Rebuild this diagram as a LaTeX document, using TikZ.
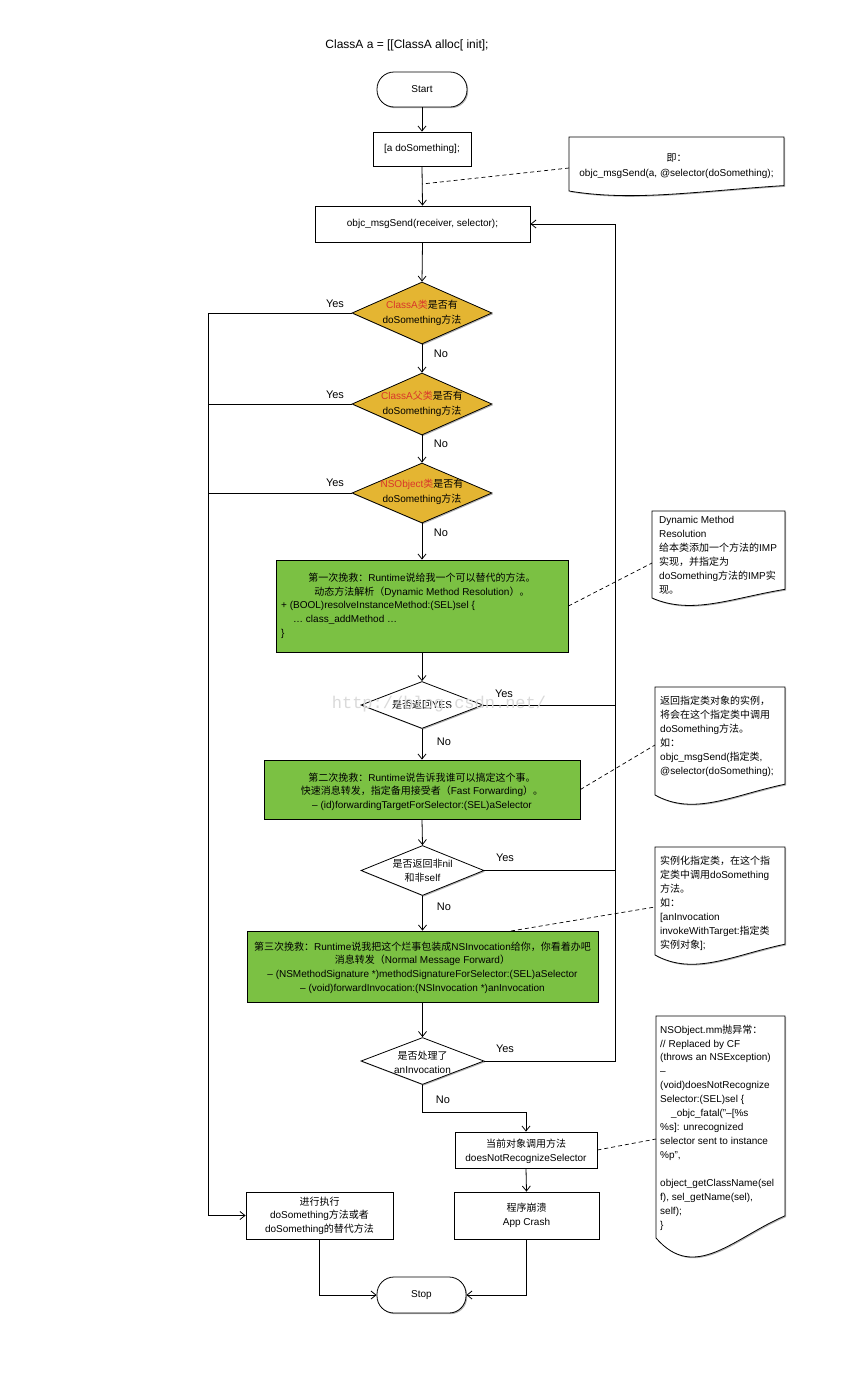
\documentclass[tikz,border=0pt]{standalone}
\usepackage{fontspec}
\setmainfont{Liberation Sans}
\newfontfamily\cjk{Noto Sans CJK SC}
\newfontfamily\wmfont{Liberation Mono}
\usetikzlibrary{shapes.geometric,arrows.meta,shadows,calc}
\XeTeXinterchartokenstate=1
\newXeTeXintercharclass\cjkclass
\newcount\cjkcnt
\cjkcnt="4E00
\loop \XeTeXcharclass\cjkcnt=\cjkclass \ifnum\cjkcnt<"9FFF \advance\cjkcnt by 1 \repeat
\cjkcnt="3000
\loop \XeTeXcharclass\cjkcnt=\cjkclass \ifnum\cjkcnt<"303F \advance\cjkcnt by 1 \repeat
\cjkcnt="FF00
\loop \XeTeXcharclass\cjkcnt=\cjkclass \ifnum\cjkcnt<"FFEF \advance\cjkcnt by 1 \repeat
\XeTeXinterchartoks 0 \cjkclass = {\begingroup\cjk}
\XeTeXinterchartoks 4095 \cjkclass = {\begingroup\cjk}
\XeTeXinterchartoks \cjkclass 0 = {\endgroup}
\XeTeXinterchartoks \cjkclass 4095 = {\endgroup}
\definecolor{cgold}{HTML}{E4B532}
\definecolor{cgreen}{HTML}{7BC143}
\definecolor{cred}{HTML}{D9362A}
\definecolor{wm}{HTML}{DADADA}
\newcommand\docshape[4]{%
  \draw[notebox] (#1,#2) -- (#3,#2) -- (#3,{#4-0.1*(#4-#2)})
    .. controls ({#1+0.6*(#3-#1)},#4) and ({#1+0.3*(#3-#1)},{#4+0.2*(#4-#2)}) .. (#1,#4) -- cycle;}
\begin{document}
\begin{tikzpicture}[x=1pt,y=-1pt,
  shad/.style={drop shadow={shadow xshift=1.2pt,shadow yshift=-1.2pt,opacity=0.3,fill=black}},
  base/.style={draw,line width=0.8pt,fill=white,shad,font=\fontsize{10}{14}\selectfont},
  box/.style={base,rectangle,inner sep=0pt,align=center},
  term/.style={box,rounded corners=17pt},
  dia/.style={base,diamond,inner sep=0pt},
  notebox/.style={draw,line width=0.8pt,fill=white,shad},
  flow/.style={line width=0.8pt,-{Straight Barb[length=5pt,width=8pt]}},
  ln/.style={line width=0.8pt},
  dsh/.style={line width=0.7pt,dash pattern=on 4pt off 3pt},
  lbl/.style={font=\fontsize{11}{13}\selectfont,inner sep=0pt},
  txt/.style={font=\fontsize{10}{14}\selectfont,align=center,inner sep=0pt},
  ntxt/.style={font=\fontsize{10}{14}\selectfont,align=left,anchor=north west,inner sep=0pt}]
\fill[white] (0,0) rectangle (856,1384);
\useasboundingbox (0,0) rectangle (856,1384);

% title
\node[inner sep=0pt,font=\fontsize{12}{14}\selectfont] (title) at (407,45) {ClassA a = [[ClassA alloc[ init];};

% main column
\node[term,minimum width=90pt,minimum height=35pt] (start) at (422,89.5) {Start};
\node[box,minimum width=98pt,minimum height=34pt] (ado) at (422,149) {[a doSomething];};
\node[box,minimum width=215pt,minimum height=36pt] (msg) at (422.5,224) {objc\_msgSend(receiver, selector);};

\node[dia,fill=cgold,minimum width=140pt,minimum height=62pt] (d1) at (422,313) {};
\node[txt,font=\fontsize{10}{15}\selectfont] (d1t) at (422,313) {\textcolor{cred}{ClassA类}是否有\\doSomething方法};
\node[dia,fill=cgold,minimum width=140pt,minimum height=62pt] (d2) at (422,404) {};
\node[txt,font=\fontsize{10}{15}\selectfont] (d2t) at (422,404) {\textcolor{cred}{ClassA父类}是否有\\doSomething方法};
\node[dia,fill=cgold,minimum width=140pt,minimum height=60pt] (d3) at (422,493) {};
\node[txt,font=\fontsize{10}{15}\selectfont] (d3t) at (422,492) {\textcolor{cred}{NSObject类}是否有\\doSomething方法};

\node[box,fill=cgreen,minimum width=292pt,minimum height=92pt] (g1) at (422,606) {};
\node[txt,font=\fontsize{10}{14.5}\selectfont] (g1a) at (422,585.5)
  {第一次挽救：Runtime说给我一个可以替代的方法。\\动态方法解析（Dynamic Method Resolution）。};
\node[ntxt] (g1b) at (281,601.5)
  {+ (BOOL)resolveInstanceMethod:(SEL)sel \{\\
   \hspace*{12pt}… class\_addMethod …\\
   \}};

\node[dia,minimum width=122pt,minimum height=47pt] (d4) at (422,705) {};
\node[txt] (d4t) at (422,705) {是否返回YES};

\node[box,fill=cgreen,minimum width=316pt,minimum height=59pt] (g2) at (422,789.5) {};
\node[txt,font=\fontsize{10}{13.5}\selectfont] (g2t) at (422,791.5)
  {第二次挽救：Runtime说告诉我谁可以搞定这个事。\\
   快速消息转发，指定备用接受者（Fast Forwarding）。\\
   – (id)forwardingTargetForSelector:(SEL)aSelector};

\node[dia,minimum width=123pt,minimum height=50pt] (d5) at (422.5,870.5) {};
\node[txt,font=\fontsize{10}{13.5}\selectfont] (d5t) at (422.5,870.5) {是否返回非nil\\和非self};

\node[box,fill=cgreen,minimum width=351pt,minimum height=71pt] (g3) at (422.5,966.5) {};
\node[txt,font=\fontsize{10}{13.7}\selectfont] (g3t) at (422.5,967.5)
  {第三次挽救：Runtime说我把这个烂事包装成NSInvocation给你，你看着办吧\\
   消息转发（Normal Message Forward）\\
   – (NSMethodSignature *)methodSignatureForSelector:(SEL)aSelector\\
   – (void)forwardInvocation:(NSInvocation *)anInvocation};

\node[dia,minimum width=123pt,minimum height=47pt] (d6) at (422.5,1061) {};
\node[txt] (d6t) at (422.5,1062) {是否处理了\\anInvocation};

\node[box,minimum width=142pt,minimum height=36pt] (dnr) at (526,1150) {};
\node[txt] (dnrt) at (526,1151) {当前对象调用方法\\doesNotRecognizeSelector};
\node[box,minimum width=145pt,minimum height=47pt] (crash) at (526.5,1215.5) {};
\node[txt,font=\fontsize{10}{13.5}\selectfont] (crasht) at (526.5,1215.5) {程序崩溃\\App Crash};
\node[box,minimum width=147pt,minimum height=47pt] (exec) at (319.5,1215.5) {};
\node[txt,font=\fontsize{10}{13.5}\selectfont] (exect) at (319.5,1215.5) {进行执行\\doSomething方法或者\\doSomething的替代方法};
\node[term,minimum width=89pt,minimum height=36pt] (stop) at (421.5,1295) {Stop};

% connectors
\coordinate (yl) at (208,313);
\coordinate (rt) at (615,224);
\coordinate (j1) at (422,184);
\coordinate (bend) at (422.5,1112);
\coordinate (g3top) at (511,931);

\draw[flow] (start.south) -- (ado.north);
\draw[flow] (ado.south) -- (msg.north);
\draw[flow] (msg.south) -- (d1.north);
\draw[flow] (d1.south) -- (d2.north);
\draw[flow] (d2.south) -- (d3.north);
\draw[flow] (d3.south) -- (g1.north);
\draw[flow] (g1.south) -- (d4.north);
\draw[flow] (d4.south) -- (g2.north);
\draw[flow] (g2.south) -- (d5.north);
\draw[flow] (d5.south) -- (g3.north);
\draw[flow] (g3.south) -- (d6.north);
\draw[flow] (d6.south) -- (bend) -| (dnr.north);
\draw[flow] (dnr.south) -- (crash.north);
\draw[flow] (d1.west) -- (yl) |- (exec.west);
\draw[ln] (d2.west) -- (d2.west -| yl);
\draw[ln] (d3.west) -- (d3.west -| yl);
\draw[flow] (d6.east) -| (rt) -- (msg.east);
\draw[ln] (d4.east) -- (d4.east -| rt);
\draw[ln] (d5.east) -- (d5.east -| rt);
\draw[flow] (exec.south) |- (stop.west);
\draw[flow] (crash.south) |- (stop.east);

% labels
\node[lbl] (y1) at (335,304) {Yes};
\node[lbl] (y2) at (335,395) {Yes};
\node[lbl] (y3) at (335,483) {Yes};
\node[lbl] (no1) at (441,354) {No};
\node[lbl] (no2) at (441,444) {No};
\node[lbl] (no3) at (441,533) {No};
\node[lbl] (y4) at (504,694) {Yes};
\node[lbl] (no4) at (444,742) {No};
\node[lbl] (y5) at (505,858) {Yes};
\node[lbl] (no5) at (444,907) {No};
\node[lbl] (y6) at (505,1049) {Yes};
\node[lbl] (no6) at (443,1100) {No};

% notes
\docshape{569}{137}{784}{191}
\node[txt,font=\fontsize{10}{15}\selectfont] (n1t) at (676.5,166) {即：\\objc\_msgSend(a, @selector(doSomething);};
\coordinate (n1l) at (569,168);
\draw[dsh] (n1l) -- (j1);

\docshape{652}{511}{785}{598}
\node[ntxt] (n2t) at (659,516.5) {Dynamic Method\\Resolution\\给本类添加一个方法的IMP\\实现，并指定为\\doSomething方法的IMP实\\现。};
\coordinate (n2l) at (652,563);
\draw[dsh] (g1.east) -- (n2l);

\docshape{655}{687}{785}{795}
\node[ntxt] (n3t) at (660,695.5) {返回指定类对象的实例，\\将会在这个指定类中调用\\doSomething方法。\\如：\\objc\_msgSend(指定类,\\@selector(doSomething);};
\coordinate (n3l) at (655,745);
\draw[dsh] (g2.east) -- (n3l);

\docshape{655}{847}{785}{955}
\node[ntxt] (n4t) at (660,855.5) {实例化指定类，在这个指\\定类中调用doSomething\\方法。\\如：\\{[}anInvocation\\invokeWithTarget:指定类\\实例对象];};
\coordinate (n4l) at (655,907);
\draw[dsh] (g3top) -- (n4l);

\docshape{656}{1016}{785}{1238}
\node[ntxt,font=\fontsize{10}{13.93}\selectfont] (n5t) at (660,1024.5) {NSObject.mm抛异常：\\// Replaced by CF\\(throws an NSException)\\–\\(void)doesNotRecognize\\Selector:(SEL)sel \{\\\hspace*{11pt}\_objc\_fatal("–[\%s\\\%s]: unrecognized\\selector sent to instance\\\%p",\\\mbox{}\\object\_getClassName(sel\\f), sel\_getName(sel),\\self);\\\}};
\coordinate (n5l) at (656,1139);
\draw[dsh] (dnr.east) -- (n5l);

% watermark
\node[inner sep=0pt,text=wm,font=\wmfont\fontsize{17}{17}\selectfont] (wmk) at (439,704) {http://blog.csdn.net/};
\end{tikzpicture}
\end{document}
